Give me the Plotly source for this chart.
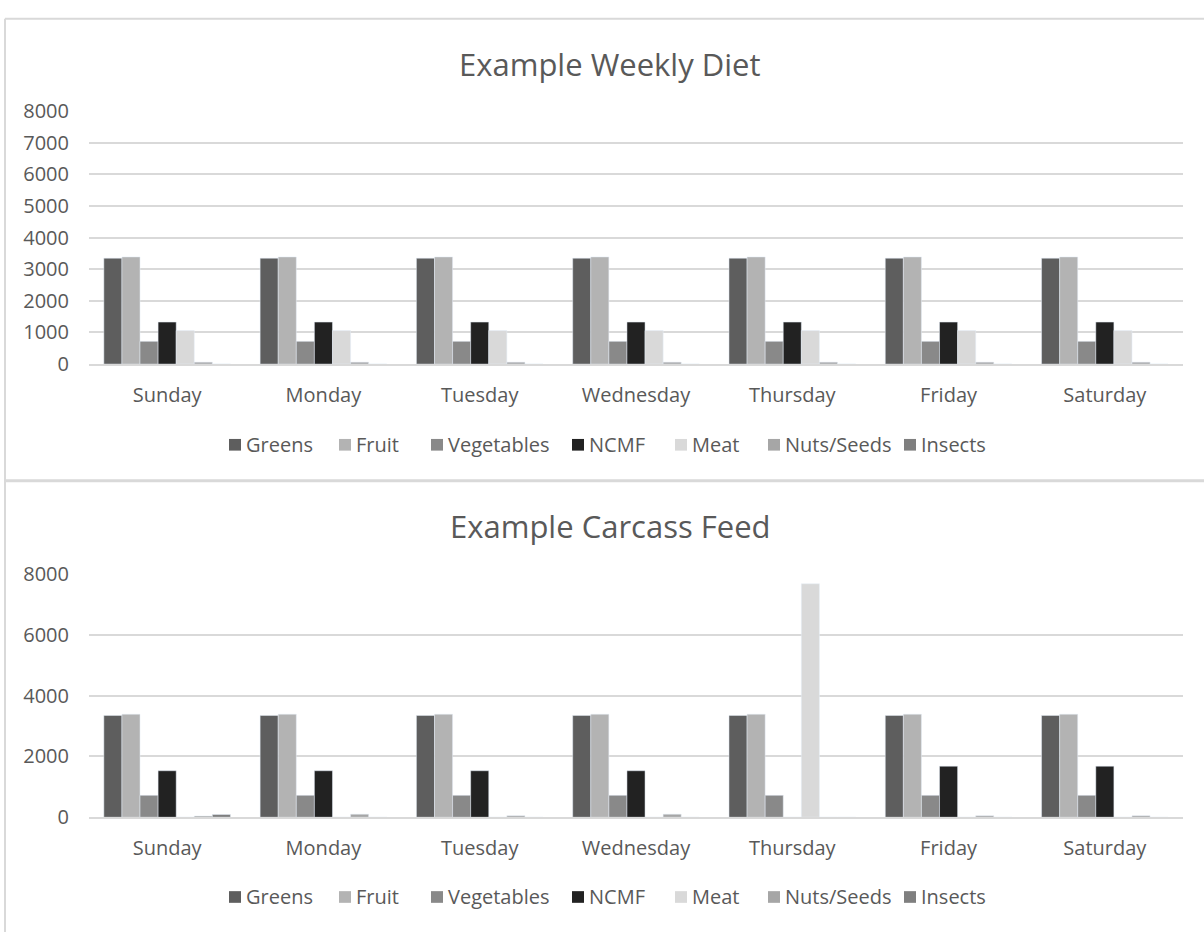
import plotly.graph_objects as go

# Days of the week shown on both category axes
days = ["Sunday", "Monday", "Tuesday", "Wednesday", "Thursday", "Friday", "Saturday"]

# Food groups (legend order) and their bar colours
groups = ["Greens", "Fruit", "Vegetables", "NCMF", "Meat", "Nuts/Seeds", "Insects"]
colors = ["#5e5e5e", "#b3b3b3", "#898989", "#222222", "#d9d9d9", "#a6a6a6", "#7f7f7f"]

# Example Weekly Diet (grams per day)
weekly_greens = [3350, 3350, 3350, 3350, 3350, 3350, 3350]
weekly_fruit = [3390, 3390, 3390, 3390, 3390, 3390, 3390]
weekly_vegetables = [720, 720, 720, 720, 720, 720, 720]
weekly_ncmf = [1330, 1330, 1330, 1330, 1330, 1330, 1330]
weekly_meat = [1060, 1060, 1060, 1060, 1060, 1060, 1060]
weekly_nuts = [60, 60, 60, 60, 60, 60, 60]
weekly_insects = [0, 0, 0, 0, 0, 0, 0]

# Example Carcass Feed (grams per day)
carcass_greens = [3350, 3350, 3350, 3350, 3350, 3350, 3350]
carcass_fruit = [3390, 3390, 3390, 3390, 3390, 3390, 3390]
carcass_vegetables = [720, 720, 720, 720, 720, 720, 720]
carcass_ncmf = [1530, 1530, 1530, 1530, 0, 1680, 1680]
carcass_meat = [0, 0, 0, 0, 7680, 0, 0]
carcass_nuts = [40, 100, 50, 100, 0, 50, 50]
carcass_insects = [90, 0, 0, 0, 0, 0, 0]

weekly = [weekly_greens, weekly_fruit, weekly_vegetables, weekly_ncmf,
          weekly_meat, weekly_nuts, weekly_insects]
carcass = [carcass_greens, carcass_fruit, carcass_vegetables, carcass_ncmf,
           carcass_meat, carcass_nuts, carcass_insects]

W, H = 1204, 945
FONT = "Open Sans"
TEXT = "#595959"
GRID = "#d9d9d9"


def px_x(v):
    return v / W


def px_y(v):
    return 1 - v / H


fig = go.Figure()

for name, color, vals in zip(groups, colors, weekly):
    fig.add_trace(go.Bar(x=days, y=vals, name=name, marker_color=color,
                         xaxis="x", yaxis="y", showlegend=False))

for name, color, vals in zip(groups, colors, carcass):
    fig.add_trace(go.Bar(x=days, y=vals, name=name, marker_color=color,
                         xaxis="x2", yaxis="y2", showlegend=False))

x_dom = [px_x(89), px_x(1183)]
Y_TOP = 8030  # a hair above 8000 so the top gridline is drawn

xaxis_common = dict(
    showgrid=False, showline=True, linecolor=GRID, linewidth=1.8,
    ticks="outside", ticklen=12, tickcolor="rgba(0,0,0,0)",
    tickfont=dict(family=FONT, size=20, color=TEXT), fixedrange=True,
)
yaxis_common = dict(
    range=[0, Y_TOP], showgrid=True, gridcolor=GRID, gridwidth=1.5,
    zeroline=False, showline=False,
    ticks="outside", ticklen=15, tickcolor="rgba(0,0,0,0)",
    tickfont=dict(family=FONT, size=20, color=TEXT), fixedrange=True,
)


def top_px(zero_px, px_per_unit):
    return zero_px - Y_TOP * px_per_unit


annotations = [
    dict(text="Example Weekly Diet", x=px_x(610), y=px_y(52), xref="paper", yref="paper",
         showarrow=False, xanchor="center", yanchor="middle",
         font=dict(family=FONT, size=31, color=TEXT)),
    dict(text="Example Carcass Feed", x=px_x(610), y=px_y(527), xref="paper", yref="paper",
         showarrow=False, xanchor="center", yanchor="middle",
         font=dict(family=FONT, size=31, color=TEXT)),
]

shapes = [
    # chart area borders
    dict(type="line", xref="paper", yref="paper", x0=px_x(5), x1=1, y0=px_y(6), y1=px_y(6),
         line=dict(color=GRID, width=2)),
    dict(type="line", xref="paper", yref="paper", x0=px_x(5), x1=px_x(5), y0=0, y1=px_y(6),
         line=dict(color=GRID, width=2)),
    dict(type="line", xref="paper", yref="paper", x0=px_x(5), x1=1, y0=px_y(481), y1=px_y(481),
         line=dict(color=GRID, width=3)),
]

# Legend keys: a small square followed by the group name
key_x = [229, 339, 431, 572, 675, 768, 904]
for legend_y in (444, 909):
    for name, color, kx in zip(groups, colors, key_x):
        shapes.append(dict(type="rect", xref="paper", yref="paper",
                           x0=px_x(kx), x1=px_x(kx + 12),
                           y0=px_y(legend_y + 6), y1=px_y(legend_y - 6),
                           fillcolor=color, line=dict(width=0)))
        annotations.append(dict(text=name, x=px_x(kx + 15), y=px_y(legend_y),
                                xref="paper", yref="paper", showarrow=False,
                                xanchor="left", yanchor="middle",
                                font=dict(family=FONT, size=20, color=TEXT)))

fig.update_layout(
    width=W, height=H,
    margin=dict(l=0, r=0, t=0, b=0),
    paper_bgcolor="white", plot_bgcolor="white",
    barmode="group", bargap=0.19, bargroupgap=0,
    xaxis=dict(domain=x_dom, anchor="y", **xaxis_common),
    yaxis=dict(domain=[px_y(361), px_y(top_px(361, 0.0325))], anchor="x", dtick=1000,
               **yaxis_common),
    xaxis2=dict(domain=x_dom, anchor="y2", **xaxis_common),
    yaxis2=dict(domain=[px_y(827), px_y(top_px(827, 0.03125))], anchor="x2", dtick=2000,
                **yaxis_common),
    showlegend=False,
    annotations=annotations,
    shapes=shapes,
)

fig.write_html("out.html")
